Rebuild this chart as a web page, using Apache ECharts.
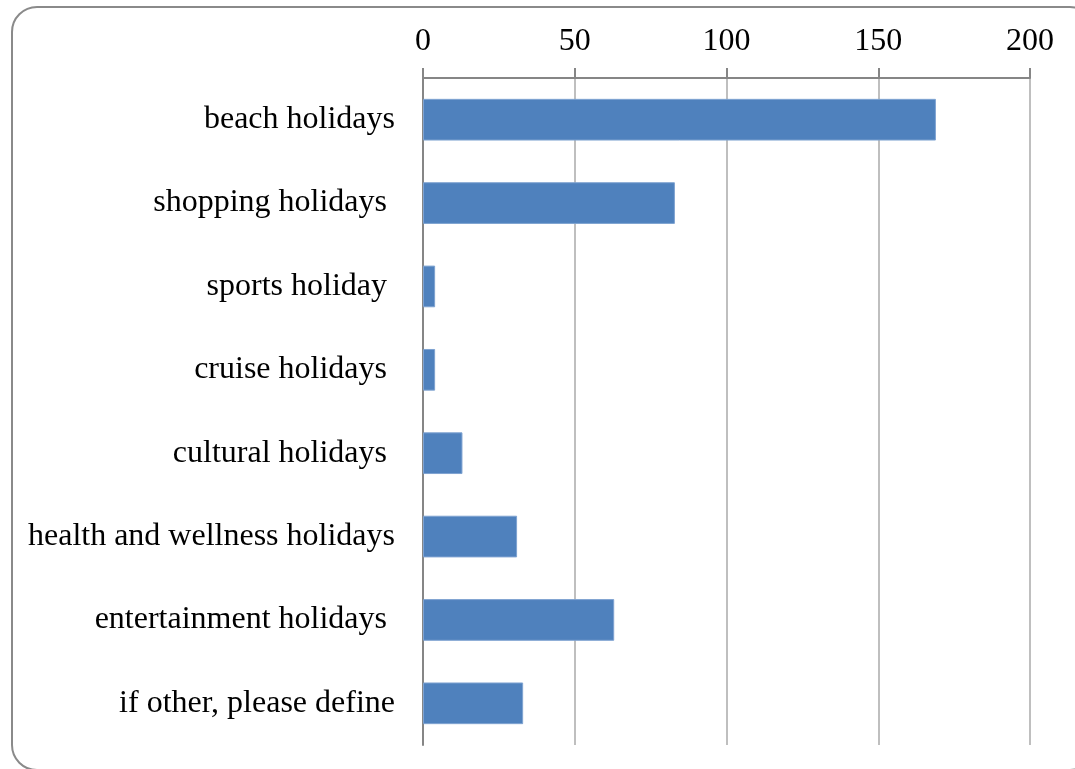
<!DOCTYPE html>
<html>
<head>
<meta charset="utf-8">
<script src="https://cdn.jsdelivr.net/npm/echarts@6/dist/echarts.min.js"></script>
<style>
html,body{margin:0;padding:0;background:#fff;overflow:hidden;}
#frame{position:absolute;left:11px;top:6px;width:1085px;height:765px;border:2px solid #8a8a8a;border-radius:26px;box-sizing:border-box;}
#chart{position:absolute;left:0;top:0;width:1075px;height:769px;}
</style>
</head>
<body>
<div id="frame"></div>
<div id="chart"></div>
<script>
const categories = ['beach holidays','shopping holidays ','sports holiday ','cruise holidays ','cultural holidays ','health and wellness holidays','entertainment holidays ','if other, please define'];
const values = [169, 83, 4, 4, 13, 31, 63, 33];
const xTicks = { min: 0, max: 200, interval: 50 };

const chart = echarts.init(document.getElementById('chart'));
chart.setOption({
  animation: false,
  grid: { left: 423, right: 45, top: 78, bottom: 24, containLabel: false },
  xAxis: {
    type: 'value', position: 'top', min: xTicks.min, max: xTicks.max, interval: xTicks.interval,
    axisLine: { show: true, lineStyle: { color: '#868686', width: 2 } },
    axisTick: { show: true, length: 10, lineStyle: { color: '#868686', width: 2 } },
    axisLabel: { fontFamily: 'Liberation Serif', fontSize: 32, color: '#000', margin: 20 },
    splitLine: { show: true, lineStyle: { color: '#bfbfbf', width: 2 } }
  },
  yAxis: {
    type: 'category', data: categories, inverse: true,
    axisLine: { show: true, lineStyle: { color: '#868686', width: 2 } },
    axisTick: { show: false },
    axisLabel: { fontFamily: 'Liberation Serif', fontSize: 32, color: '#000', margin: 28 }
  },
  series: [{
    type: 'bar', data: values, barCategoryGap: '50%',
    itemStyle: { color: '#4f81bd', borderColor: '#7fa3d1', borderWidth: 1 }
  }]
});
</script>
</body>
</html>
